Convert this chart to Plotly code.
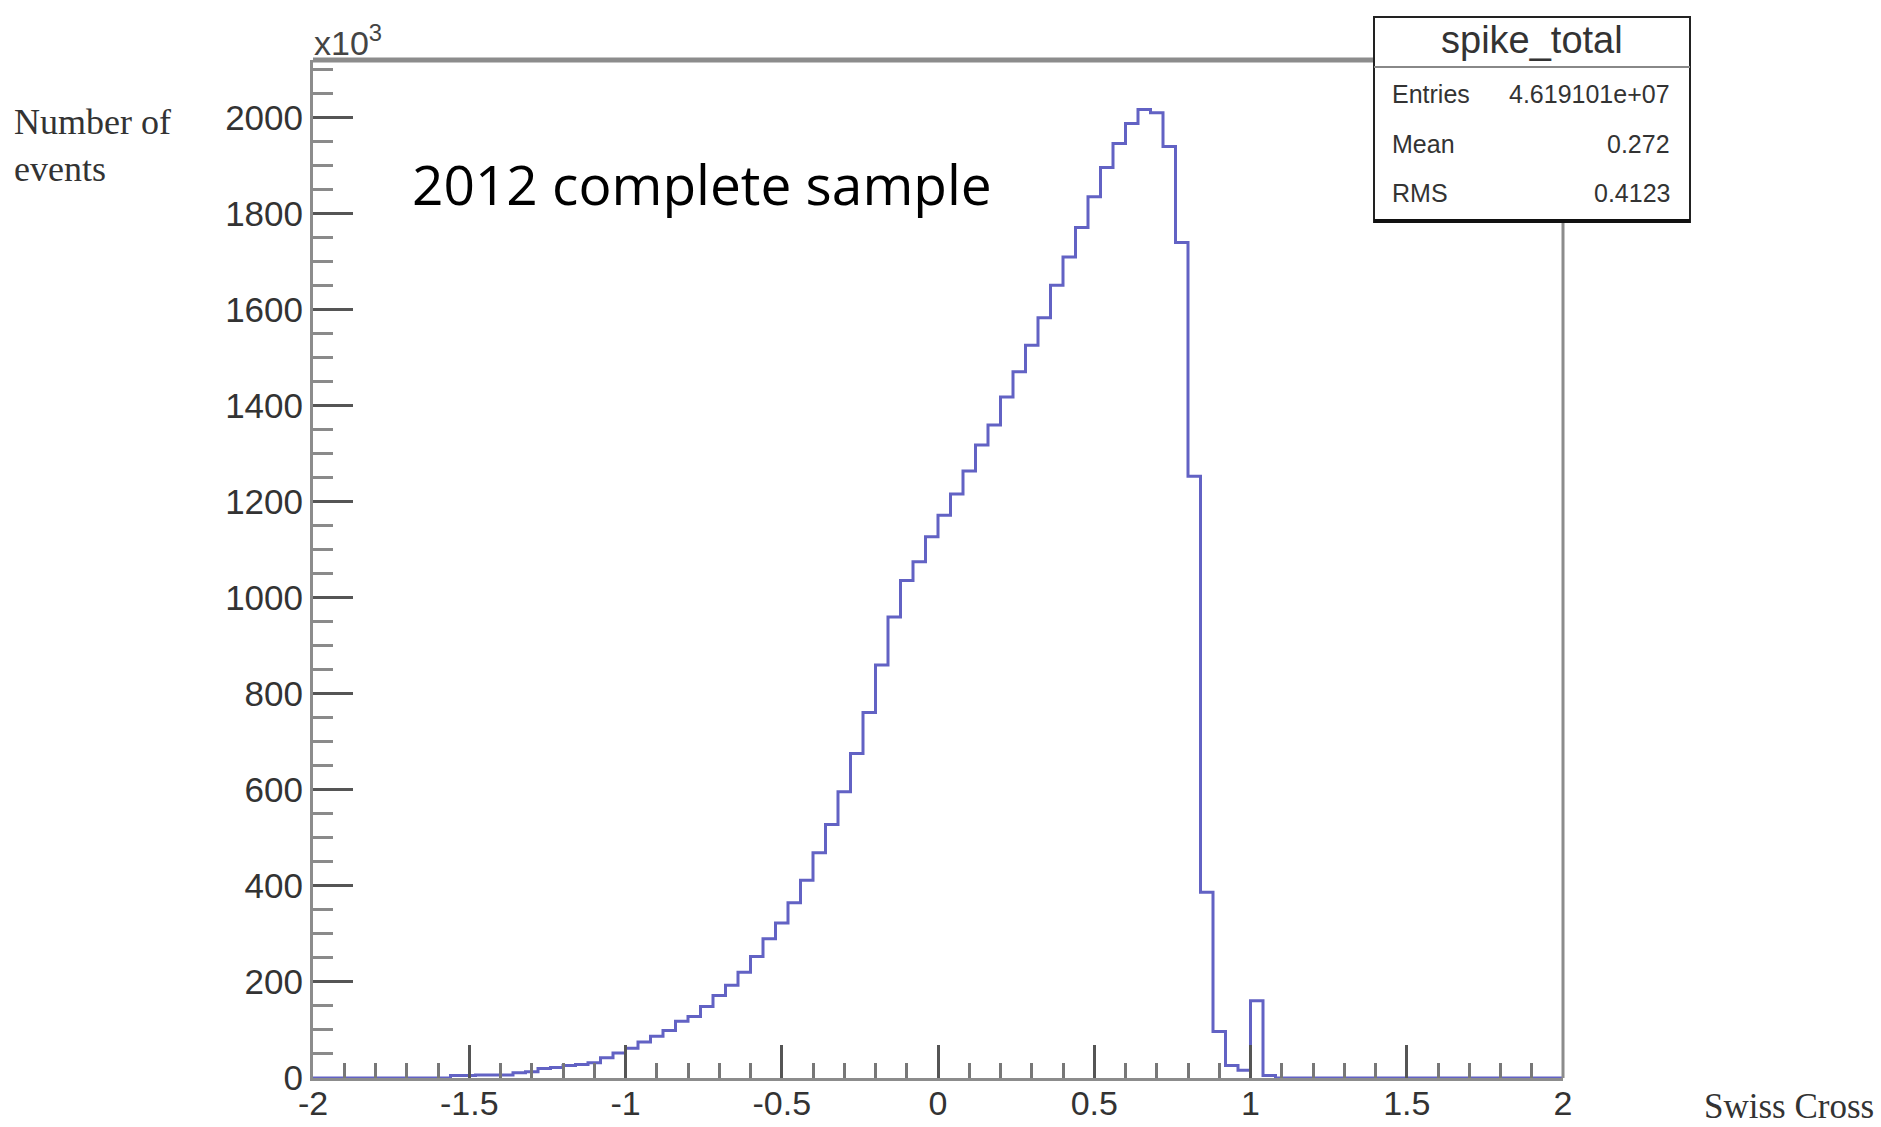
import plotly.graph_objects as go

# ---------------- data ----------------
bin_lo = -2.0
bin_width = 0.04
n_bins = 100
counts = [0, 0, 0, 0, 0, 0, 0, 0, 0, 0, 0,          # -2.00 .. -1.56
          5, 5, 6, 6, 6, 11, 13, 20, 22, 26,        # -1.56 .. -1.16
          28, 32, 42, 52, 62, 75, 87, 99, 118, 128,  # -1.16 .. -0.76
          149, 172, 193, 220, 253, 290, 323, 365, 412, 469,   # -0.76 .. -0.36
          528, 596, 676, 761, 860, 960, 1036, 1075, 1127, 1172,  # -0.36 .. 0.04
          1216, 1264, 1318, 1360, 1418, 1471, 1526, 1583, 1651, 1710,  # 0.04 .. 0.44
          1771, 1835, 1896, 1946, 1988, 2017, 2010, 1940, 1740, 1253,  # 0.44 .. 0.84
          387, 97, 26, 16, 161, 5,                   # 0.84 .. 1.08
          0, 0, 0, 0, 0, 0, 0, 0, 0, 0, 0, 0, 0, 0, 0, 0, 0, 0, 0, 0, 0, 0, 0]  # 1.08 .. 2.00

x_tick_vals = [-2, -1.5, -1, -0.5, 0, 0.5, 1, 1.5, 2]
x_tick_text = ["-2", "-1.5", "-1", "-0.5", "0", "0.5", "1", "1.5", "2"]
y_tick_vals = [0, 200, 400, 600, 800, 1000, 1200, 1400, 1600, 1800, 2000]
y_tick_text = ["0", "200", "400", "600", "800", "1000", "1200", "1400", "1600", "1800", "2000"]

stats_title = "spike_total"
stats_labels = ["Entries", "Mean", "RMS"]
stats_values = ["4.619101e+07", "0.272", "0.4123"]

# ---------------- figure ----------------
edges = [bin_lo + bin_width * k for k in range(n_bins + 1)]
xs = edges[:]
ys = counts + [counts[-1]]

W, H = 1881, 1127
L, R, T, B = 313, 318, 60, 49
PW, PH = W - L - R, H - T - B


def px(x):
    return (x - L) / PW


def py(y):
    return (H - B - y) / PH


fig = go.Figure()
fig.add_trace(go.Scatter(
    x=xs, y=ys, mode="lines", line=dict(shape="hv", color="#6262c4", width=3),
    hoverinfo="skip", showlegend=False))

tick_font = dict(family="Liberation Sans, Arial, sans-serif", size=35, color="#333333")

fig.update_layout(
    width=W, height=H,
    margin=dict(l=L, r=R, t=T, b=B, pad=0, autoexpand=False),
    paper_bgcolor="white", plot_bgcolor="white",
    showlegend=False,
    xaxis=dict(
        range=[-2, 2], showgrid=False, zeroline=False, automargin=False,
        showline=True, linecolor="#8c8c8c", linewidth=3,
        ticks="inside", ticklen=33, tickwidth=3, tickcolor="#555555",
        tickmode="array", tickvals=x_tick_vals, ticktext=x_tick_text,
        tickfont=dict(family="Liberation Sans, Arial, sans-serif", size=34, color="#333333"),
        ticklabelstandoff=-7,
        minor=dict(dtick=0.1, ticks="inside", ticklen=15, tickwidth=3, tickcolor="#777777"),
    ),
    yaxis=dict(
        range=[0, 2120], showgrid=False, zeroline=False, automargin=False,
        showline=True, linecolor="#8c8c8c", linewidth=3,
        ticks="inside", ticklen=40, tickwidth=3, tickcolor="#555555",
        tickmode="array", tickvals=y_tick_vals, ticktext=y_tick_text,
        tickfont=tick_font,
        minor=dict(dtick=50, ticks="inside", ticklen=20, tickwidth=3, tickcolor="#8a8a8a"),
    ),
)

shapes = []
# top frame line
shapes.append(dict(type="line", xref="paper", yref="paper", x0=0, x1=px(1374), y0=1, y1=1,
                   line=dict(color="#8c8c8c", width=5)))
# right frame line
shapes.append(dict(type="line", xref="paper", yref="paper", x0=1, x1=1, y0=0, y1=py(222),
                   line=dict(color="#8c8c8c", width=3)))
# stats box
shapes.append(dict(type="rect", xref="paper", yref="paper", x0=px(1374), x1=px(1690),
                   y0=py(222), y1=py(17), fillcolor="white", line=dict(color="#222222", width=2),
                   layer="above"))
shapes.append(dict(type="line", xref="paper", yref="paper", x0=px(1374), x1=px(1690),
                   y0=py(67), y1=py(67), line=dict(color="#888888", width=2)))
shapes.append(dict(type="line", xref="paper", yref="paper", x0=px(1374), x1=px(1690),
                   y0=py(221), y1=py(221), line=dict(color="#111111", width=4)))

annotations = []
stat_font = dict(family="Liberation Sans, Arial, sans-serif", size=25, color="#333333")
annotations.append(dict(xref="paper", yref="paper", x=px(1532), y=py(40), text=stats_title,
                        showarrow=False, xanchor="center", yanchor="middle",
                        font=dict(family="Liberation Sans, Arial, sans-serif", size=38, color="#333333")))
row_y = [94, 144, 193]
for lab, val, ry in zip(stats_labels, stats_values, row_y):
    annotations.append(dict(xref="paper", yref="paper", x=px(1390), y=py(ry), text=lab,
                            showarrow=False, xanchor="left", yanchor="middle", font=stat_font))
    annotations.append(dict(xref="paper", yref="paper", x=px(1672), y=py(ry), text=val,
                            showarrow=False, xanchor="right", yanchor="middle", font=stat_font))

# x10^3 multiplier
annotations.append(dict(xref="paper", yref="paper", x=px(312), y=py(40), text="x10<sup>3</sup>",
                        showarrow=False, xanchor="left", yanchor="middle",
                        font=dict(family="Liberation Sans, Arial, sans-serif", size=34, color="#444444")))
# y axis title
annotations.append(dict(xref="paper", yref="paper", x=px(12), y=py(100), text="Number of<br>events",
                        showarrow=False, xanchor="left", yanchor="top", align="left",
                        font=dict(family="Liberation Serif, Times New Roman, serif", size=36, color="#333333")))
# x axis title
annotations.append(dict(xref="paper", yref="paper", x=px(1876), y=py(1106), text="Swiss Cross",
                        showarrow=False, xanchor="right", yanchor="middle",
                        font=dict(family="Liberation Serif, Times New Roman, serif", size=35, color="#333333")))
# sample label
annotations.append(dict(xref="paper", yref="paper", x=px(410), y=py(184), text="2012 complete sample",
                        showarrow=False, xanchor="left", yanchor="middle",
                        font=dict(family="Open Sans, Noto Sans, sans-serif", size=55, color="#000000")))

fig.update_layout(shapes=shapes, annotations=annotations)
fig.write_html("out.html")
